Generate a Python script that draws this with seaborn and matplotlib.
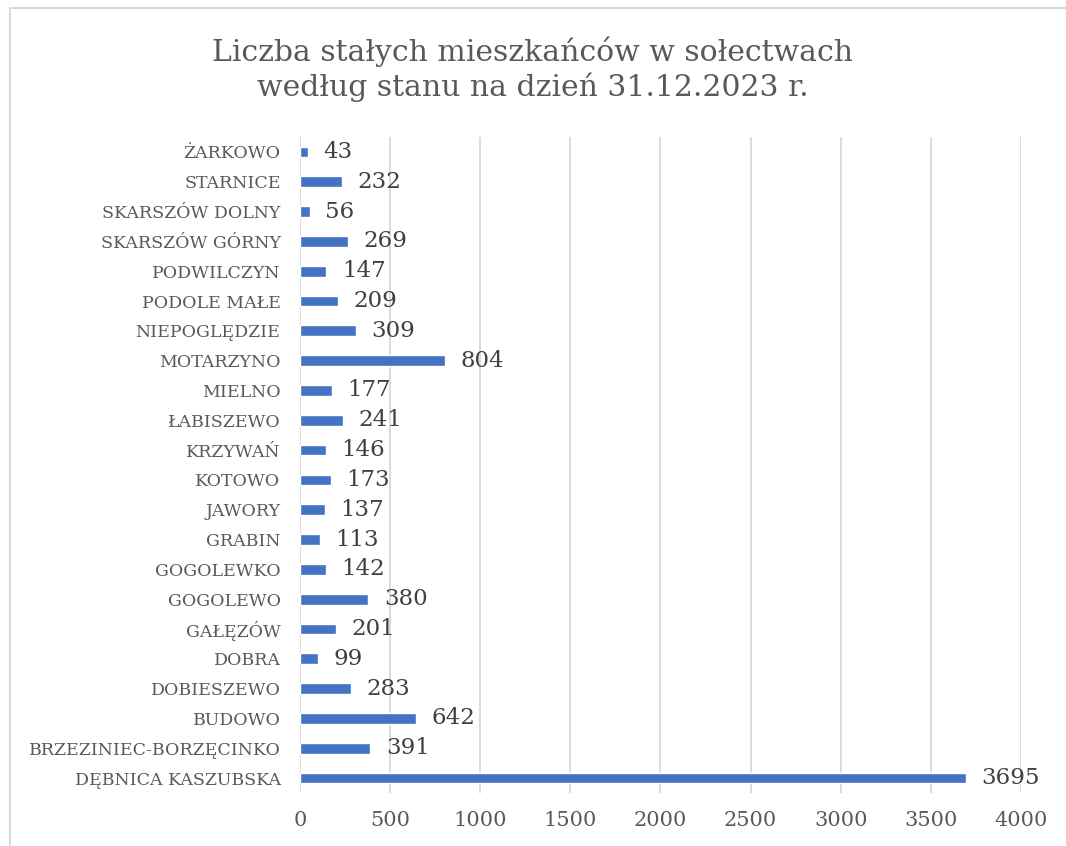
import matplotlib
matplotlib.use("Agg")
import matplotlib.pyplot as plt
import seaborn as sns
import pandas as pd
from matplotlib.patches import Rectangle

# dane z wykresu
solectwa = [
    "ŻARKOWO", "STARNICE", "SKARSZÓW DOLNY", "SKARSZÓW GÓRNY", "PODWILCZYN",
    "PODOLE MAŁE", "NIEPOGLĘDZIE", "MOTARZYNO", "MIELNO", "ŁABISZEWO",
    "KRZYWAŃ", "KOTOWO", "JAWORY", "GRABIN", "GOGOLEWKO", "GOGOLEWO",
    "GAŁĘZÓW", "DOBRA", "DOBIESZEWO", "BUDOWO", "BRZEZINIEC-BORZĘCINKO",
    "DĘBNICA KASZUBSKA",
]
mieszkancy = [
    43, 232, 56, 269, 147, 209, 309, 804, 177, 241,
    146, 173, 137, 113, 142, 380, 201, 99, 283, 642, 391, 3695,
]
x_ticks = [0, 500, 1000, 1500, 2000, 2500, 3000, 3500, 4000]

df = pd.DataFrame({"solectwo": solectwa, "liczba": mieszkancy})

sns.set_style("white")
plt.rcParams["font.family"] = ["DejaVu Serif"]

fig = plt.figure(figsize=(10.66, 8.46), dpi=100)
ax = fig.add_axes([0.2814, 0.0627, 0.6764, 0.7753])

sns.barplot(data=df, x="liczba", y="solectwo", orient="h",
            color="#4472C4", width=0.36, saturation=1, ax=ax)

ax.set_xlim(0, 4000)
ax.set_xticks(x_ticks)
ax.grid(axis="x", color="#d9d9d9", linewidth=1.3)
ax.set_axisbelow(True)
for s in ax.spines.values():
    s.set_visible(False)
ax.set_xlabel("")
ax.set_ylabel("")
ax.tick_params(axis="x", length=0, labelsize=15, colors="#595959", pad=13)
ax.tick_params(axis="y", length=0, labelsize=12.5, colors="#595959", pad=14)

for i, v in enumerate(mieszkancy):
    ax.text(v + 85, i, str(v), va="center", ha="left",
            fontsize=16.5, color="#404040")

fig.text(0.5, 0.918, "Liczba stałych mieszkańców w sołectwach\nwedług stanu na dzień 31.12.2023 r.",
         ha="center", va="center", fontsize=21.5, color="#595959", linespacing=1.25)

# ramka wykresu
fig.patches.append(Rectangle((10 / 1066, -0.1), 1.2, 1.1 - 8 / 846,
                             transform=fig.transFigure, fill=False,
                             edgecolor="#d9d9d9", linewidth=1.5))

fig.savefig("out.png", dpi=100)
